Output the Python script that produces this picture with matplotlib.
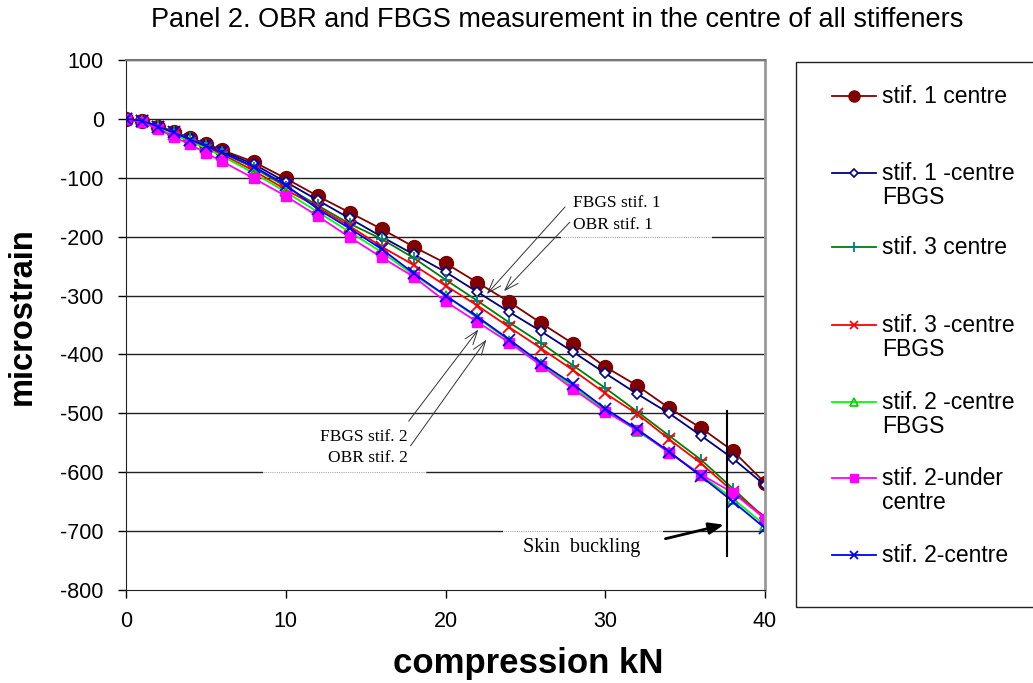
import matplotlib
matplotlib.use("Agg")
import matplotlib.pyplot as plt
from matplotlib.lines import Line2D
from matplotlib.patches import Rectangle

plt.rcParams["axes.unicode_minus"] = False

# load in kN
load = [0, 1, 2, 3, 4, 5, 6, 8, 10, 12, 14, 16, 18, 20, 22, 24, 26, 28, 30, 32, 34, 36, 38, 40]

# microstrain readings, one list per gauge
stif1_centre = [0, -4, -13, -22, -32, -42, -53, -73, -101, -131, -159, -187, -217, -245,
                -278, -311, -347, -382, -421, -453, -491, -525, -564, -618]
stif1_fbgs = [0, -4, -13, -23, -33, -44, -55, -77, -107, -138, -169, -200, -230, -260,
              -294, -328, -361, -396, -432, -467, -500, -538, -577, -622]
stif3_centre = [0, -3, -12, -22, -33, -45, -57, -83, -115, -147, -178, -204, -236, -273,
                -309, -346, -381, -419, -457, -497, -538, -579, -628, -678]
stif3_fbgs = [0, -4, -14, -25, -35, -47, -60, -88, -120, -150, -182, -217, -248, -283,
              -317, -354, -390, -427, -466, -501, -544, -585, -633, -677]
stif2_fbgs = [0, -5, -15, -27, -38, -50, -63, -92, -124, -158, -192, -226, -265, -300,
              -338, -377, -417, -455, -494, -530, -566, -605, -645, -690]
stif2_under = [0, -6, -17, -31, -43, -58, -72, -101, -131, -165, -201, -235, -268, -310,
               -345, -380, -419, -459, -497, -528, -567, -604, -635, -679]
stif2_centre = [0, -3, -13, -23, -35, -46, -57, -81, -112, -153, -186, -221, -262, -300,
                -336, -375, -415, -451, -492, -527, -565, -607, -650, -695]

labels = ["stif. 1 centre", "stif. 1 -centre\nFBGS", "stif. 3 centre",
          "stif. 3 -centre\nFBGS", "stif. 2 -centre\nFBGS", "stif. 2-under\ncentre",
          "stif. 2-centre"]
series = [stif1_centre, stif1_fbgs, stif3_centre, stif3_fbgs, stif2_fbgs,
          stif2_under, stif2_centre]

# line colour, marker, marker edge, marker face, marker size
styles = [
    dict(color="#800000", marker="o", mec="#800000", mfc="#800000", ms=10),
    dict(color="#000080", marker="D", mec="#000080", mfc="white", ms=5.5, mew=1.2),
    dict(color="#008000", marker="+", mec="#008080", mfc="#008080", ms=9, mew=1.3),
    dict(color="#FF0000", marker="x", mec="#FF0000", mfc="#FF0000", ms=8, mew=1.3),
    dict(color="#00FF00", marker="^", mec="#00CC00", mfc="none", ms=7, mew=1.2),
    dict(color="#FF00FF", marker="s", mec="#FF00FF", mfc="#FF00FF", ms=7.5),
    dict(color="#0000FF", marker="x", mec="#0000FF", mfc="#0000FF", ms=8, mew=1.3),
]

sans = "Liberation Sans"
serif = "Liberation Serif"

fig = plt.figure(figsize=(10.33, 6.83), dpi=100)
ax = fig.add_axes([0.12198, 0.13616, 0.61859, 0.77599])

ax.set_xlim(0, 40)
ax.set_ylim(-800, 100)
ax.set_xticks(range(0, 41, 10))
ax.set_yticks(range(-800, 101, 100))
ax.tick_params(direction="out", length=6, width=1, labelsize=15.5)
ax.tick_params(axis="y", pad=10)
ax.tick_params(axis="x", pad=9)
for lab in ax.get_xticklabels() + ax.get_yticklabels():
    lab.set_fontfamily(sans)

for y in range(-700, 101, 100):
    ax.axhline(y, color="#222222", lw=1, zorder=0)

# text boxes in the original hide part of some gridlines
for y, x0, x1 in [(-200, 27.2, 36.7), (-600, 8.6, 18.8), (-700, 23.6, 33.6)]:
    ax.hlines(y, x0, x1, color="white", lw=3, zorder=0.5)
    ax.hlines(y, x0, x1, color="#aaaaaa", lw=0.8, ls=(0, (1, 1)), zorder=0.6)

for sp in ["left", "bottom"]:
    ax.spines[sp].set_color("#222222")
ax.spines["right"].set_color("#999999")
ax.spines["right"].set_linewidth(2)
ax.spines["top"].set_color("#777777")
ax.spines["top"].set_linewidth(1.5)

for vals, st in zip(series, styles):
    ax.plot(load, vals, lw=1.3, clip_on=True, **st)

# annotations
ax.text(28.0, -143, "FBGS stif. 1", family=serif, fontsize=12.5, va="center", ha="left")
ax.text(28.0, -180, "OBR stif. 1", family=serif, fontsize=12.5, va="center", ha="left")
arr = dict(arrowstyle="->,head_length=1.0,head_width=0.35", color="#333333", lw=0.7)
ax.annotate("", xy=(22.47, -301), xytext=(27.6, -146), arrowprops=arr)
ax.annotate("", xy=(23.54, -296), xytext=(27.9, -172), arrowprops=arr)

ax.text(17.65, -540, "FBGS stif. 2", family=serif, fontsize=12.5, va="center", ha="right")
ax.text(17.65, -575, "OBR stif. 2", family=serif, fontsize=12.5, va="center", ha="right")
ax.annotate("", xy=(22.16, -354), xytext=(17.59, -517), arrowprops=arr)
ax.annotate("", xy=(22.66, -371), xytext=(17.71, -559), arrowprops=arr)

ax.text(24.85, -727, "Skin  buckling", family=serif, fontsize=14.5, va="center", ha="left")
ax.annotate("", xy=(37.6, -688), xytext=(33.6, -714),
            arrowprops=dict(arrowstyle="-|>,head_length=0.9,head_width=0.35",
                            color="black", lw=2))
ax.plot([37.6, 37.6], [-496, -742], color="black", lw=1.5)

fig.text(557 / 1033, 1 - 20 / 683,
         "Panel 2. OBR and FBGS measurement in the centre of all stiffeners",
         family=sans, fontsize=19.5, ha="center", va="center")
fig.text(528 / 1033, 1 - 664 / 683, "compression kN", family=sans, fontsize=25,
         fontweight="bold", ha="center", va="center")
fig.text(22 / 1033, 1 - 316 / 683, "microstrain", family=sans, fontsize=23.5,
         fontweight="bold", ha="center", va="center", rotation=90)

# legend box drawn by hand, entries sit on a fixed pitch
fig.add_artist(Rectangle((796 / 1033, 1 - 607 / 683), 300 / 1033, 545 / 683,
                         transform=fig.transFigure, fill=False, ec="#222222", lw=1))
rows = [96, 173, 247, 325, 402, 478, 555]
for yy, lab, st in zip(rows, labels, styles):
    yf = 1 - yy / 683
    fig.add_artist(Line2D([832 / 1033, 876 / 1033], [yf, yf], transform=fig.transFigure,
                          color=st["color"], lw=1.3))
    mst = {k: v for k, v in st.items() if k != "color"}
    mst["ms"] = st["ms"] * 0.8
    fig.add_artist(Line2D([854 / 1033], [yf], transform=fig.transFigure, ls="none", **mst))
    fig.text(882 / 1033, yf + 0.0165, lab, family=sans, fontsize=16.5, ha="left", va="top",
             linespacing=1.05)

fig.savefig("out.png", dpi=100)
